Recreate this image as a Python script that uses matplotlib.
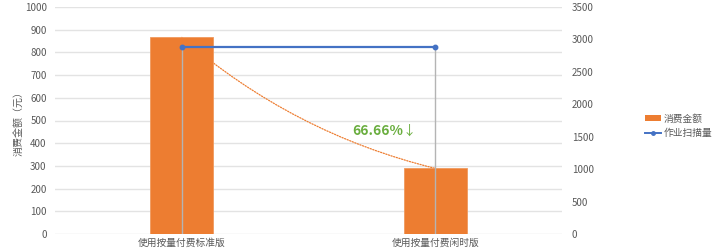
import matplotlib
matplotlib.use("Agg")
import matplotlib.pyplot as plt
from matplotlib.patches import Patch
from matplotlib.lines import Line2D

plt.rcParams['font.family'] = ['Noto Sans CJK SC', 'DejaVu Sans']

categories = ["使用按量付费标准版", "使用按量付费闲时版"]
cost = [866, 289]
scans = [2890, 2890]
left_ticks = list(range(0, 1001, 100))
right_ticks = list(range(0, 3501, 500))
pct_label = "66.66%↓"

orange = "#ED7D31"
blue = "#4472C4"
grid_c = "#E3E3E3"
txt_c = "#595959"
green = "#6AAE3F"

fig = plt.figure(figsize=(7.2, 2.52), dpi=100)
ax = fig.add_axes([55/720, 18/252, 507/720, 227/252])
ax2 = ax.twinx()

x = list(range(len(categories)))
ax.set_xlim(-0.5, 1.5)
ax.set_ylim(0, 1000)
ax2.set_ylim(0, 3500)

ax.set_yticks(left_ticks)
ax2.set_yticks(right_ticks)
ax.grid(axis='y', color=grid_c, linewidth=1)
ax.set_axisbelow(True)

# curve connecting bar tops (behind bars)
ax.annotate("", xy=(x[1], cost[1]), xytext=(x[0], cost[0]),
            arrowprops=dict(arrowstyle='-', linestyle=(0, (1, 1.2)), color=orange,
                            linewidth=0.9, connectionstyle='arc3,rad=0.12',
                            shrinkA=0, shrinkB=0), zorder=1)

ax.bar(x, cost, width=0.25, color=orange, edgecolor="#F09A5E", linewidth=0.6, zorder=2)

# drop lines
for xi, s in zip(x, scans):
    ax2.plot([xi, xi], [0, s], color="#B4B4B4", linewidth=1.0, zorder=3)
ax2.plot(x, scans, color=blue, linewidth=1.6, marker='o', markersize=3.2, zorder=4)

ax.text(0.872, 452, pct_label[:-1], color=green, fontsize=10, fontweight='bold',
        ha='right', va='center', zorder=5)
ax.text(0.872, 452, pct_label[-1], color=green, fontsize=9.5, fontweight='normal',
        ha='left', va='center', zorder=5)

ax.set_xticks(x)
ax.set_xticklabels(categories, fontsize=7, color=txt_c)
for a in (ax, ax2):
    for sp in a.spines.values():
        sp.set_visible(False)
    a.tick_params(length=0, labelsize=7, labelcolor=txt_c)
ax.tick_params(axis='y', pad=6)
ax.tick_params(axis='x', pad=3)
ax2.tick_params(axis='y', pad=7)
for lab in ax2.get_yticklabels():
    lab.set_ha('left')

ax.set_ylabel("消费金额（元）", fontsize=7.2, color=txt_c, labelpad=0)

handles = [Patch(facecolor=orange, edgecolor='none'),
           Line2D([0], [0], color=blue, linewidth=1.4, marker='o', markersize=2.5)]
fig.legend(handles, ["消费金额", "作业扫描量"], loc='center left',
           bbox_to_anchor=(641/720, 126/252), frameon=False, fontsize=7,
           handlelength=1.7, handleheight=0.5, handletextpad=0.2, labelspacing=0.5,
           labelcolor=txt_c, borderaxespad=0)

fig.savefig("out.png", dpi=100)
